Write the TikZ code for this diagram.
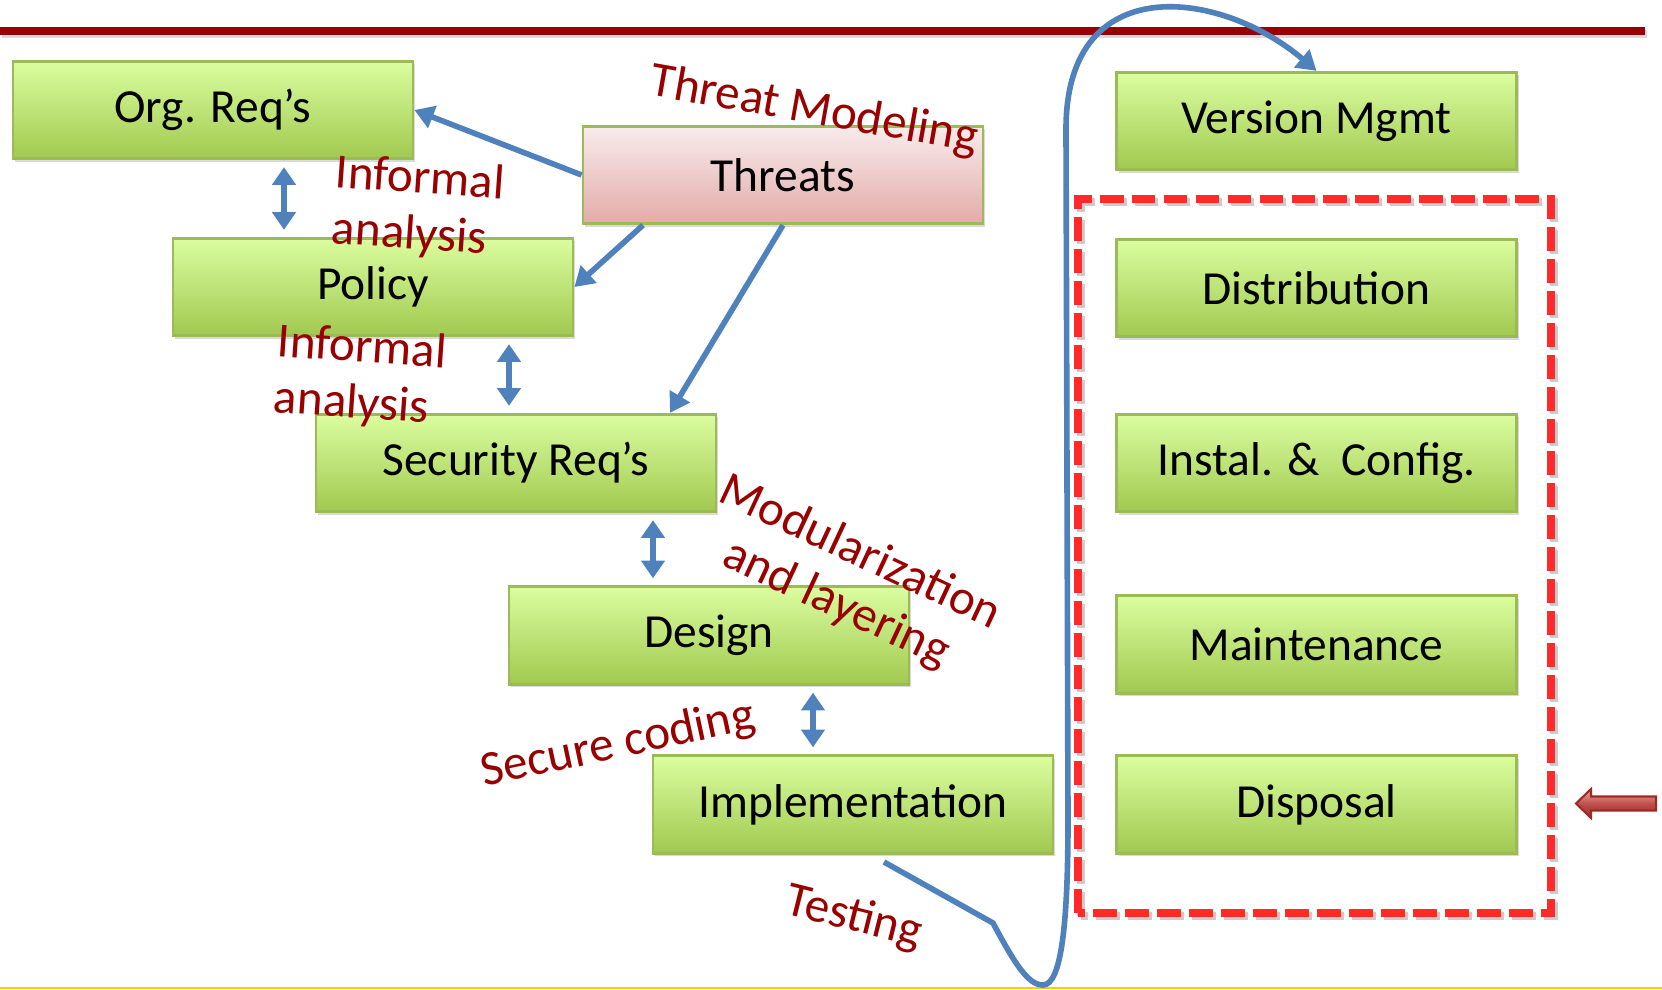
\documentclass[tikz,border=0pt]{standalone}
\usepackage{fontspec}
\setmainfont{Carlito}
\usetikzlibrary{arrows.meta,shadows}
\definecolor{boxtop}{HTML}{DBFDA0}
\definecolor{boxbot}{HTML}{A1C94F}
\definecolor{boxline}{HTML}{9BBB59}
\definecolor{thrtop}{HTML}{F8ECEC}
\definecolor{thrbot}{HTML}{E3ABA9}
\definecolor{flow}{HTML}{4F81BD}
\definecolor{lbl}{HTML}{990000}
\definecolor{dashred}{HTML}{FF2B2B}
\definecolor{foot}{HTML}{FFCC00}
\definecolor{arrtop}{HTML}{ECA9A7}
\definecolor{arrmid}{HTML}{C0504D}
\definecolor{arrbot}{HTML}{9E2A26}
\begin{document}
\begin{tikzpicture}[
        font=\fontsize{13.5}{16}\selectfont,
        phase/.style={draw=boxline,line width=0.8pt,top color=boxtop,bottom color=boxbot,minimum width=4cm,minimum height=0.975cm,inner sep=0pt,yshift=0pt,drop shadow={shadow xshift=0.7pt,shadow yshift=-0.9pt,opacity=0.3}},
        threatbox/.style={phase,top color=thrtop,bottom color=thrbot},
        link/.style={draw=flow,line width=1.6pt,line join=round,-{Triangle[length=5.5pt,width=6.5pt]}},
        both/.style={link,{Triangle[length=5pt,width=6.5pt]}-{Triangle[length=5pt,width=6.5pt]},shorten <=2pt,shorten >=2pt},
        frame/.style={line width=2pt,dash pattern=on 6.8pt off 2.3pt},
        note/.style={text=lbl,font=\fontsize{14}{16}\selectfont,inner sep=0pt}]
        \useasboundingbox (0,0) rectangle (16.62,9.89);
        \draw[black,opacity=0.15,line width=2pt](0.02,9.55)--(16.47,9.55);
        \draw[lbl,line width=2pt](0,9.58)--(16.45,9.58);
        \draw[foot,line width=0.6pt](0,0.01)--(16.62,0.01);
        \node[phase](org)at(2.13,8.79){Org. Req’s};
        \node[threatbox](thr)at(7.83,8.14){Threats};
        \node[phase](pol)at(3.73,7.02){Policy};
        \node[phase](sr)at(5.16,5.26){Security Req’s};
        \node[phase](des)at(7.09,3.535){Design};
        \node[phase](imp)at(8.53,1.845){Implementation};
        \node[phase](vm)at(13.165,8.68){Version Mgmt};
        \node[phase](dist)at(13.165,7.01){Distribution};
        \node[phase](inst)at(13.165,5.26){Instal. \&\ \ Config.};
        \node[phase](mnt)at(13.165,3.445){Maintenance};
        \node[phase](disp)at(13.165,1.845){Disposal};
        \draw[frame,black,opacity=0.2](10.81,0.73) rectangle (15.54,7.87);
        \draw[frame,dashred](10.78,0.76) rectangle (15.51,7.90);
        \draw[draw=arrbot,line width=0.6pt,top color=arrtop,bottom color=arrbot,middle color=arrmid](15.76,1.855)--(15.91,2.0)--(15.91,1.925)--(16.56,1.925)--(16.56,1.785)--(15.91,1.785)--(15.91,1.71)--cycle;
        \draw[link](thr.west)--(org.east);
        \draw[link]([xshift=-1.4cm]thr.south)--(pol.east);
        \draw[link](thr.south)--([xshift=1.54cm]sr.north);
        \draw[both]([xshift=0.71cm]org.south)--([xshift=-0.89cm]pol.north);
        \draw[both]([xshift=1.36cm]pol.south)--([xshift=-0.07cm]sr.north);
        \draw[both]([xshift=1.37cm]sr.south)--([xshift=-0.56cm]des.north);
        \draw[both]([xshift=1.04cm]des.south)--([xshift=-0.40cm]imp.north);
        \coordinate(tstart)at(8.84,1.27);
        \draw[link](tstart)--(9.93,0.66) .. controls (10.15,0.25) and (10.28,0.04) .. (10.43,0.04) .. controls (10.62,0.04) and (10.68,0.7) .. (10.68,1.69)--(10.66,8.6) .. controls (10.66,10.2) and (12.2,10.0) .. (vm.north);
        \node[note,rotate=-10](tm)at(8.14,8.78){Threat Modeling};
        \node[note,rotate=-4,align=left](ia1)at(4.18,7.81){Informal\\analysis};
        \node[note,rotate=-4,align=left](ia2)at(3.60,6.12){Informal\\analysis};
        \node[note,rotate=-25,align=center](ml)at(8.48,4.10){Modularization\\and layering};
        \node[note,rotate=12](sc)at(6.18,2.44){Secure coding};
        \node[note,rotate=-14](tst)at(8.54,0.71){Testing};
    \end{tikzpicture}
\end{document}
